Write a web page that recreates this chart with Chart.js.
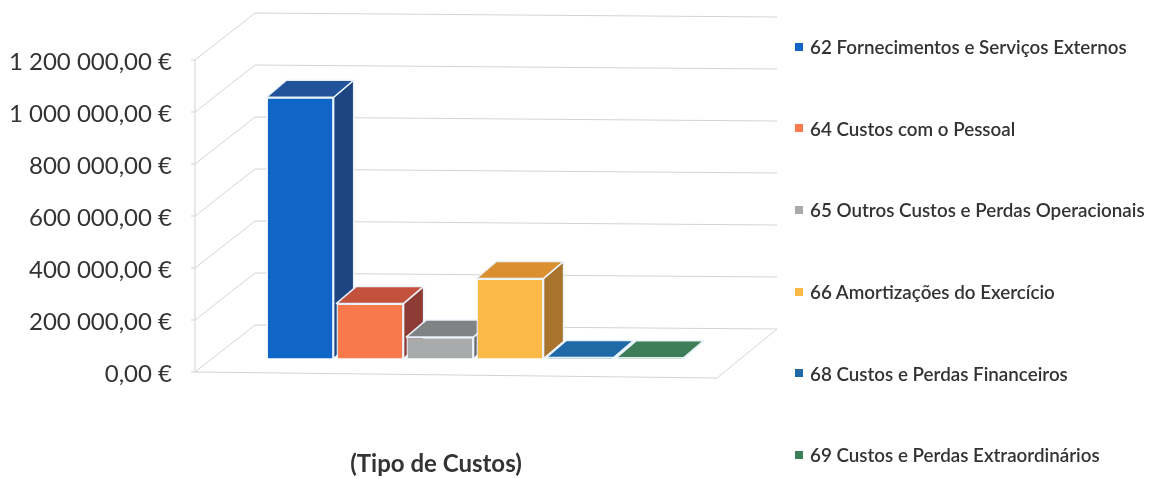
<!DOCTYPE html>
<html>
<head>
<meta charset="utf-8">
<script src="https://cdn.jsdelivr.net/npm/chart.js@4.4.1/dist/chart.umd.min.js"></script>
<style>
  html, body { margin: 0; padding: 0; background: #fff; }
  #wrap { position: relative; width: 1151px; height: 479px; overflow: hidden; }
  #c { position: absolute; left: 0; top: 0; }
  #legend { position: absolute; left: 795px; top: 6px; margin: 0; padding: 0; list-style: none;
            font-family: Lato, "Open Sans", sans-serif; font-size: 18.8px; font-weight: 600; color: #333; }
  #legend li { height: 81.6px; display: flex; align-items: center; white-space: nowrap; }
  #legend .box { display: inline-block; width: 8px; height: 8px; margin-right: 7px; flex: none; }
</style>
</head>
<body>
<div id="wrap">
  <canvas id="c" width="1151" height="479"></canvas>
  <ul id="legend"></ul>
</div>
<script>
// ---------- data ----------
const categories = [''];
const seriesNames = [
  '62 Fornecimentos e Serviços Externos',
  '64 Custos com o Pessoal',
  '65 Outros Custos e Perdas Operacionais',
  '66 Amortizações do Exercício',
  '68 Custos e Perdas Financeiros',
  '69 Custos e Perdas Extraordinários'
];
const seriesValues = [1005000, 212000, 83000, 308000, 4000, 3000];
const yTickValues = [0, 200000, 400000, 600000, 800000, 1000000, 1200000];
const xAxisTitle = '(Tipo de Custos)';

// ---------- styles ----------
const frontColors = ['#0f66c6', '#f87a4c', '#a8aaac', '#fbb947', '#1f6aa6', '#3d7d58'];
const topColors   = ['#22529a', '#c2523c', '#808284', '#da9030', '#1f6aa6', '#3d7d58'];
const sideColors  = ['#1d4580', '#8e3b35', '#67696b', '#a8742d', '#1a5a8e', '#33694a'];
const edgeColor = 'rgba(236,246,255,0.95)';
const G = { wallDx: 60, wallDy: -47, backSlope: 4, frontSlope: 6, floorExtra: 40,
            barShiftX: 39, barShiftY: -13.5, barDx: 20, barDy: -17 };

function fmtEuro(v) {
  return String(Math.round(v)).replace(/\B(?=(\d{3})+(?!\d))/g, ' ') + ',00 €';
}

function poly(ctx, pts) {
  ctx.beginPath();
  ctx.moveTo(pts[0][0], pts[0][1]);
  for (let i = 1; i < pts.length; i++) ctx.lineTo(pts[i][0], pts[i][1]);
  ctx.closePath();
  ctx.fill();
  ctx.stroke();
}

const threeD = {
  id: 'threeD',
  beforeDatasetsDraw(chart) {
    const { ctx, chartArea: a, scales: { y } } = chart;
    const L = a.left;
    const W = (a.right - a.left) + G.floorExtra;
    const y0 = y.getPixelForValue(0);
    const yTop = y.getPixelForValue(yTickValues[yTickValues.length - 1]);
    ctx.save();
    ctx.strokeStyle = '#d3d3d3';
    ctx.lineWidth = 1;
    yTickValues.forEach(v => {
      const py = y.getPixelForValue(v);
      ctx.beginPath();
      ctx.moveTo(L - 4, py);
      ctx.lineTo(L, py);
      ctx.lineTo(L + G.wallDx, py + G.wallDy);
      ctx.lineTo(L + G.wallDx + W, py + G.wallDy + G.backSlope);
      ctx.stroke();
    });
    ctx.beginPath();
    ctx.moveTo(L, yTop);
    ctx.lineTo(L, y0);
    ctx.lineTo(L + W, y0 + G.frontSlope);
    ctx.lineTo(L + W + G.wallDx, y0 + G.wallDy + G.backSlope);
    ctx.stroke();

    const metas = chart.getSortedVisibleDatasetMetas().slice().sort((m1, m2) => m1.index - m2.index);
    metas.forEach(meta => {
      meta.data.forEach(el => {
        const p = el.getProps(['x', 'y', 'base', 'width'], true);
        const l = p.x - p.width / 2, r = p.x + p.width / 2;
        const t = Math.min(p.y, p.base), b = Math.max(p.y, p.base);
        ctx.save();
        ctx.translate(G.barShiftX, G.barShiftY);
        ctx.lineWidth = 1.5;
        ctx.lineJoin = 'round';
        ctx.strokeStyle = edgeColor;
        ctx.fillStyle = sideColors[meta.index];
        poly(ctx, [[r, t], [r + G.barDx, t + G.barDy], [r + G.barDx, b + G.barDy], [r, b]]);
        ctx.fillStyle = topColors[meta.index];
        poly(ctx, [[l, t], [l + G.barDx, t + G.barDy], [r + G.barDx, t + G.barDy], [r, t]]);
        el.draw(ctx);
        ctx.restore();
      });
    });
    ctx.restore();
    return false;
  }
};

const htmlLegend = {
  id: 'htmlLegend',
  afterUpdate(chart) {
    const ul = document.getElementById('legend');
    ul.innerHTML = '';
    const items = chart.options.plugins.legend.labels.generateLabels(chart)
      .sort((i1, i2) => i1.datasetIndex - i2.datasetIndex);
    items.forEach(item => {
      const li = document.createElement('li');
      const box = document.createElement('span');
      box.className = 'box';
      box.style.background = item.fillStyle;
      const txt = document.createElement('span');
      txt.textContent = item.text;
      li.appendChild(box);
      li.appendChild(txt);
      ul.appendChild(li);
    });
  }
};

const datasets = seriesNames.map((name, i) => ({
  label: name,
  data: [seriesValues[i]],
  backgroundColor: frontColors[i],
  borderColor: edgeColor,
  borderWidth: 1.5,
  clip: false
}));

new Chart(document.getElementById('c'), {
  type: 'bar',
  data: { labels: categories, datasets },
  plugins: [threeD, htmlLegend],
  options: {
    responsive: false,
    animation: false,
    events: [],
    categoryPercentage: 0.871,
    barPercentage: 0.96,
    layout: { padding: { top: 60, right: 474, left: 0, bottom: 0 } },
    plugins: { legend: { display: false }, tooltip: { enabled: false } },
    scales: {
      x: {
        type: 'category',
        grid: { display: false, drawTicks: false },
        border: { display: false },
        ticks: { display: false },
        title: { display: true, text: xAxisTitle, color: '#333',
                 font: { family: 'Lato', size: 24, weight: 'bold' }, padding: { top: 0, bottom: 0 } },
        afterFit(s) { s.height = 107; }
      },
      y: {
        min: 0, max: 1200000,
        grid: { display: false, drawTicks: false },
        border: { display: false },
        afterBuildTicks(s) { s.ticks = yTickValues.map(v => ({ value: v })); },
        ticks: { color: '#333', padding: 23, labelOffset: 2,
                 font: { family: 'Lato', size: 24 },
                 callback: v => fmtEuro(v) },
        afterFit(s) { s.width = 195; }
      }
    }
  }
});
</script>
</body>
</html>
